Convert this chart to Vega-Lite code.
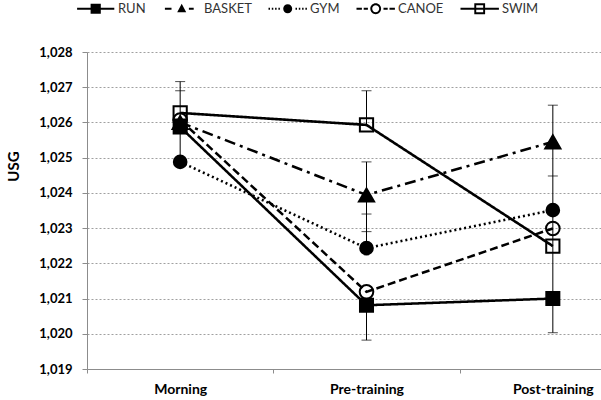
{
  "$schema": "https://vega.github.io/schema/vega-lite/v6.json",
  "width": 510,
  "height": 317,
  "autosize": "none",
  "padding": {"left": 87, "top": 52, "right": 4, "bottom": 31},
  "background": "white",
  "config": {"view": {"stroke": null}, "font": "Lato"},
  "datasets": {
    "pts": [
      {"series": "RUN", "time": "Morning", "usg": 1.02587},
      {"series": "RUN", "time": "Pre-training", "usg": 1.02081},
      {"series": "RUN", "time": "Post-training", "usg": 1.0210},
      {"series": "BASKET", "time": "Morning", "usg": 1.0260},
      {"series": "BASKET", "time": "Pre-training", "usg": 1.02394},
      {"series": "BASKET", "time": "Post-training", "usg": 1.02545},
      {"series": "GYM", "time": "Morning", "usg": 1.02488},
      {"series": "GYM", "time": "Pre-training", "usg": 1.02243},
      {"series": "GYM", "time": "Post-training", "usg": 1.02351},
      {"series": "CANOE", "time": "Morning", "usg": 1.02607},
      {"series": "CANOE", "time": "Pre-training", "usg": 1.02119},
      {"series": "CANOE", "time": "Post-training", "usg": 1.02299},
      {"series": "SWIM", "time": "Morning", "usg": 1.02627},
      {"series": "SWIM", "time": "Pre-training", "usg": 1.02593},
      {"series": "SWIM", "time": "Post-training", "usg": 1.02249}
    ],
    "err": [
      {"time": "Morning", "usg": 1.02484, "hi": 1.02716},
      {"time": "Pre-training", "usg": 1.02593, "hi": 1.0269},
      {"time": "Pre-training", "usg": 1.02243, "hi": 1.02488},
      {"time": "Pre-training", "usg": 1.01982, "hi": 1.02081},
      {"time": "Post-training", "usg": 1.02003, "hi": 1.02649}
    ],
    "caps": [
      {"time": "Morning", "usg": 1.02716},
      {"time": "Morning", "usg": 1.0269},
      {"time": "Pre-training", "usg": 1.0269},
      {"time": "Pre-training", "usg": 1.02488},
      {"time": "Pre-training", "usg": 1.0234},
      {"time": "Pre-training", "usg": 1.0229},
      {"time": "Pre-training", "usg": 1.01982},
      {"time": "Post-training", "usg": 1.02649},
      {"time": "Post-training", "usg": 1.02448},
      {"time": "Post-training", "usg": 1.02003}
    ]
  },
  "encoding": {
    "x": {
      "field": "time",
      "type": "nominal",
      "scale": {
        "type": "band",
        "domain": ["Morning", "Pre-training", "Post-training"],
        "range": [0, 559],
        "paddingInner": 0,
        "paddingOuter": 0
      },
      "axis": {
        "title": null,
        "labelAngle": 0,
        "tickBand": "extent",
        "grid": false,
        "domainColor": "#8c8c8c",
        "tickColor": "#8c8c8c",
        "tickSize": 4,
        "labelFont": "Lato",
        "labelFontSize": 14,
        "labelFontWeight": "bold",
        "labelColor": "black",
        "labelPadding": 9
      }
    },
    "y": {
      "field": "usg",
      "type": "quantitative",
      "scale": {"domain": [1.019, 1.028], "zero": false, "nice": false},
      "axis": {
        "title": "USG",
        "values": [1.019, 1.02, 1.021, 1.022, 1.023, 1.024, 1.025, 1.026, 1.027, 1.028],
        "labelExpr": "replace(format(datum.value, '.3f'), '.', ',')",
        "domainColor": "#8c8c8c",
        "tickColor": "#8c8c8c",
        "tickSize": 5,
        "grid": true,
        "gridColor": "#a0a0a0",
        "gridDash": [2, 2],
        "gridWidth": 1,
        "labelFont": "Lato",
        "labelFontSize": 13,
        "labelFontWeight": "bold",
        "labelColor": "black",
        "labelPadding": 10,
        "titleFont": "Lato",
        "titleFontSize": 15,
        "titleFontWeight": "bold",
        "titleColor": "black",
        "titleX": -66,
        "titleY": 114
      }
    }
  },
  "layer": [
    {
      "data": {"name": "err"},
      "mark": {"type": "rule", "color": "black", "strokeWidth": 1},
      "encoding": {"y2": {"field": "hi"}}
    },
    {
      "data": {"name": "caps"},
      "mark": {"type": "tick", "orient": "horizontal", "size": 10, "thickness": 1, "color": "black"},
      "encoding": {}
    },
    {
      "data": {"name": "pts"},
      "mark": {"type": "line", "color": "black"},
      "encoding": {
        "order": {"value": null},
        "strokeDash": {
          "field": "series",
          "type": "nominal",
          "scale": {
            "domain": ["GYM", "RUN", "BASKET", "CANOE", "SWIM"],
            "range": [[2, 3], [1, 0], [11, 5, 3, 5], [8, 4], [1, 0]]
          },
          "legend": null
        },
        "strokeWidth": {
          "field": "series",
          "type": "nominal",
          "scale": {
            "domain": ["CANOE", "RUN", "BASKET", "GYM", "SWIM"],
            "range": [2.5, 2.6, 2.2, 2.2, 2.6]
          },
          "legend": null
        }
      }
    },
    {
      "data": {"name": "pts"},
      "transform": [{"filter": "datum.series === 'RUN'"}],
      "mark": {"type": "point", "shape": "square", "filled": true, "fill": "black", "stroke": "black", "strokeWidth": 2, "size": 170, "opacity": 1},
      "encoding": {}
    },
    {
      "data": {"name": "pts"},
      "transform": [{"filter": "datum.series === 'BASKET'"}],
      "mark": {"type": "point", "shape": "triangle-up", "filled": true, "fill": "black", "stroke": "black", "strokeWidth": 2, "size": 230, "opacity": 1},
      "encoding": {}
    },
    {
      "data": {"name": "pts"},
      "transform": [{"filter": "datum.series === 'GYM'"}],
      "mark": {"type": "point", "shape": "circle", "filled": true, "fill": "black", "stroke": "black", "strokeWidth": 2, "size": 160, "opacity": 1},
      "encoding": {}
    },
    {
      "data": {"name": "pts"},
      "transform": [{"filter": "datum.series === 'CANOE'"}],
      "mark": {"type": "point", "shape": "circle", "filled": true, "fill": "transparent", "stroke": "black", "strokeWidth": 2, "size": 185, "opacity": 1},
      "encoding": {}
    },
    {
      "data": {"name": "pts"},
      "transform": [{"filter": "datum.series === 'SWIM'"}],
      "mark": {"type": "point", "shape": "square", "filled": true, "fill": "transparent", "stroke": "black", "strokeWidth": 2, "size": 175, "opacity": 1},
      "encoding": {}
    },
    {
      "data": {"name": "pts"},
      "mark": {"type": "point", "filled": true, "color": "black", "strokeWidth": 0, "opacity": 0},
      "encoding": {
        "shape": {
          "field": "series",
          "type": "nominal",
          "scale": {
            "domain": ["RUN", "BASKET", "GYM", "CANOE", "SWIM"],
            "range": [
              "M-0.9,-0.17H5.3V0.17H-0.9ZM1.35,-0.85H3.05V0.85H1.35Z",
              "M-0.6,-0.17H0.5V0.17H-0.6ZM3.4,-0.17H4.2V0.17H3.4ZM2.2,-0.85L2.95,0.6H1.45Z",
              "M-1,-0.15H-0.75V0.15H-1ZM-0.45,-0.15H-0.2V0.15H-0.45ZM0.1,-0.15H0.35V0.15H0.1ZM0.65,-0.15H0.9V0.15H0.65ZM3.5,-0.15H3.75V0.15H3.5ZM4.05,-0.15H4.3V0.15H4.05ZM4.6,-0.15H4.85V0.15H4.6ZM5.15,-0.15H5.4V0.15H5.15ZM2.95,0A0.75,0.75,0,1,1,1.45,0A0.75,0.75,0,1,1,2.95,0Z",
              "M-1,-0.17H-0.1V0.17H-1ZM0.2,-0.17H0.9V0.17H0.2ZM3.5,-0.17H4.2V0.17H3.5ZM4.5,-0.17H5.4V0.17H4.5ZM3.1,0A0.9,0.9,0,1,1,1.3,0A0.9,0.9,0,1,1,3.1,0ZM2.78,0A0.58,0.58,0,1,0,1.62,0A0.58,0.58,0,1,0,2.78,0Z",
              "M-1,-0.17H5.4V0.17H-1ZM1.3,-0.9H3.1V0.9H1.3ZM1.62,-0.58V0.58H2.78V-0.58Z"
            ]
          },
          "legend": {
            "orient": "none",
            "legendX": -11,
            "legendY": -50,
            "direction": "horizontal",
            "title": null,
            "padding": 0,
            "symbolSize": 144,
            "symbolOpacity": 1,
            "symbolFillColor": "black",
            "symbolStrokeWidth": 0,
            "labelFont": "Lato",
            "labelFontSize": 13,
            "labelColor": "#333333",
            "labelOffset": 29,
            "columnPadding": 16
          }
        }
      }
    }
  ]
}
